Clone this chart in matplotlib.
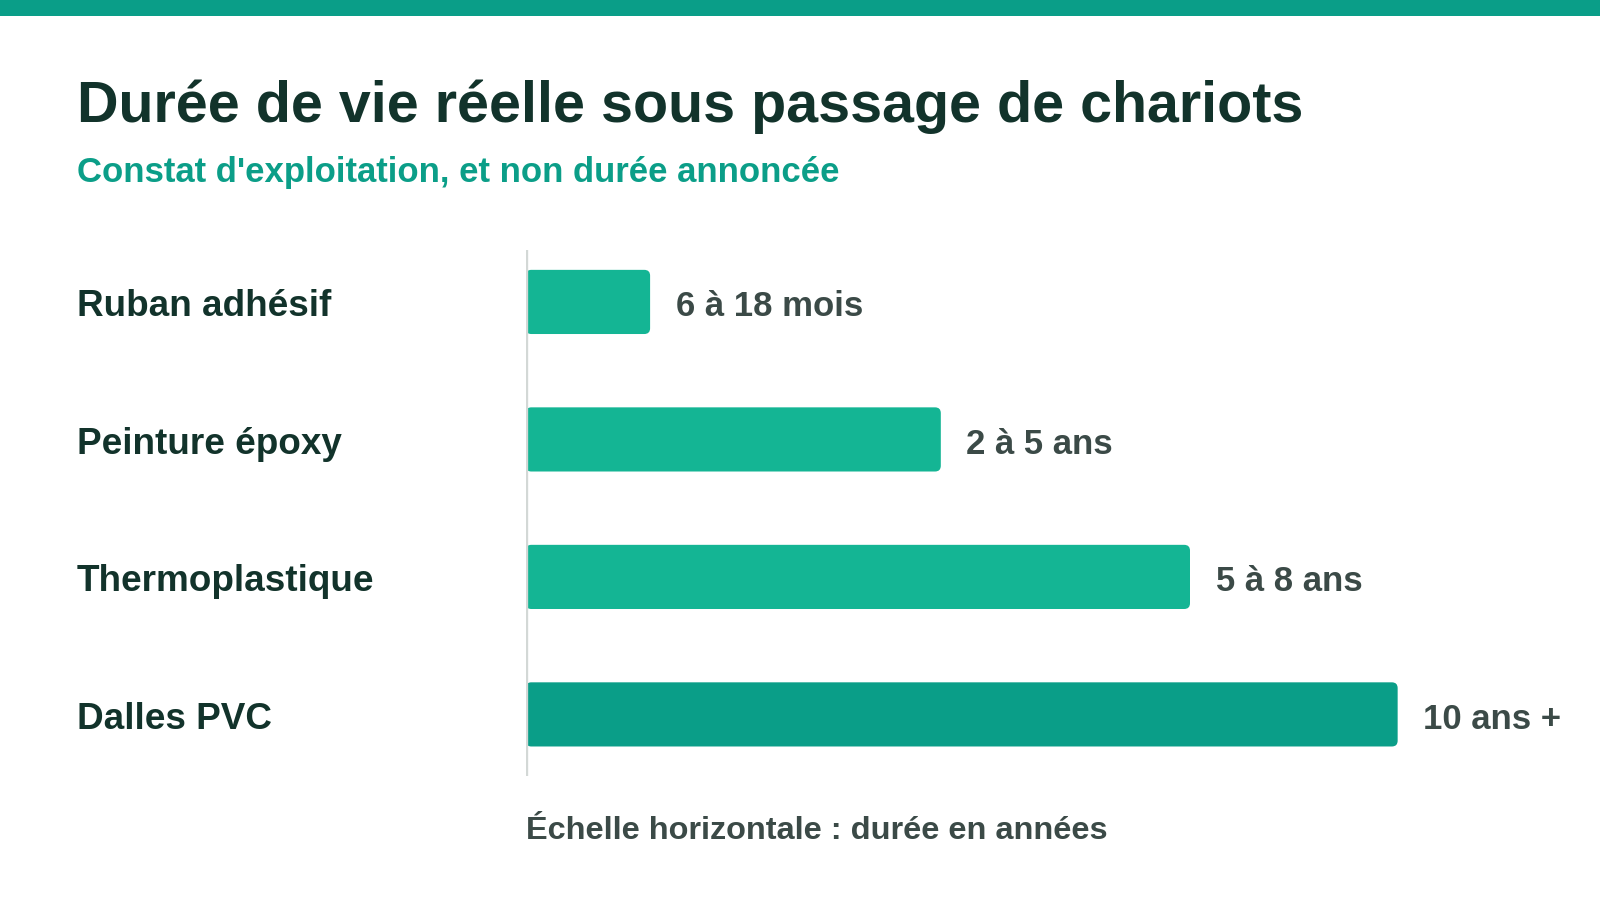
import matplotlib
matplotlib.use("Agg")
import matplotlib.pyplot as plt
from matplotlib.patches import FancyBboxPatch, Rectangle
from matplotlib.transforms import blended_transform_factory

plt.rcParams["font.family"] = ["Liberation Sans", "DejaVu Sans"]

# donnees
categories = ["Ruban adhésif", "Peinture époxy", "Thermoplastique", "Dalles PVC"]
durees = [1.5, 5, 8, 10.5]  # longueur des barres en annees (estimee)
etiquettes = ["6 à 18 mois", "2 à 5 ans", "5 à 8 ans", "10 ans +"]
couleurs = ["#14b594", "#14b594", "#14b594", "#0a9e88"]

W, H = 1568, 882  # repere de la maquette

fig = plt.figure(figsize=(16, 9), dpi=100)
fig.patch.set_facecolor("white")

# bandeau en haut
fig.add_artist(Rectangle((0, 1 - 16 / H), 1, 16 / H, transform=fig.transFigure,
                         color="#0a9e88", lw=0))

fig.text(75 / W, 1 - 120 / H, "Durée de vie réelle sous passage de chariots",
         fontsize=41.3, fontweight="bold", color="#12332b", va="baseline")
fig.text(75 / W, 1 - 178 / H, "Constat d'exploitation, et non durée annoncée",
         fontsize=25, fontweight="bold", color="#0b9e88", va="baseline")

# axes : x=0 a 515 px, 81.4 px par annee
x0, x1 = 515, 515 + 12.5 * 81.4
ax = fig.add_axes([x0 / W, 1 - 760 / H, (x1 - x0) / W, 515 / H])
ax.set_xlim(0, 12.5)
ax.set_ylim(3 + 60 / 135, -51 / 135)
ax.axis("off")

y = list(range(len(categories)))
bars = ax.barh(y, durees, height=63 / 135, color=couleurs)

# remplacer par des barres arrondies
for bar, c in zip(bars, couleurs):
    bx, by = bar.get_x(), bar.get_y()
    bw, bh = bar.get_width(), bar.get_height()
    p = FancyBboxPatch((bx, by), bw, bh,
                       boxstyle="round,pad=0,rounding_size=0.07",
                       mutation_aspect=81.4 / 135,
                       facecolor=c, edgecolor="none", zorder=2)
    ax.add_patch(p)
    bar.set_visible(False)

ax.axvline(0, color="#d3d8d6", lw=2.4, zorder=3)

decal = 14 / 135  # ligne de base un peu sous le centre de la barre
for yi, d, lab in zip(y, durees, etiquettes):
    ax.text(d + 25 / 81.4, yi + decal, lab, ha="left", va="baseline",
            fontsize=25, fontweight="bold", color="#3b4a47")

trans = blended_transform_factory(fig.transFigure, ax.transData)
for yi, cat in zip(y, categories):
    ax.text(75 / W, yi + decal, cat, transform=trans, ha="left", va="baseline",
            fontsize=26.6, fontweight="bold", color="#12332b")

fig.text(515 / W, 1 - 822 / H, "Échelle horizontale : durée en années",
         fontsize=23.4, fontweight="bold", color="#3b4a47", va="baseline")

fig.savefig("out.png", dpi=100, facecolor="white")
